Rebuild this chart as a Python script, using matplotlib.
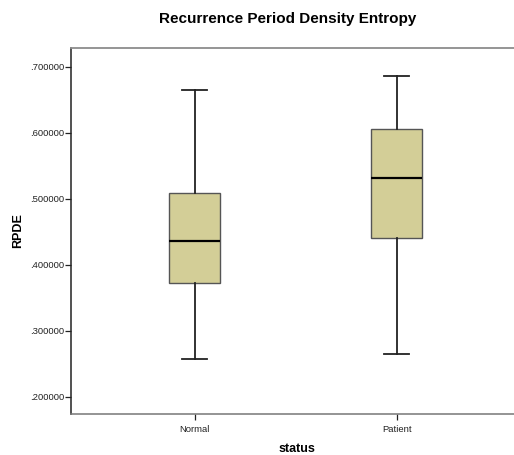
import numpy as np
import matplotlib.pyplot as plt
from matplotlib.ticker import FuncFormatter

plt.rcParams['font.family'] = ['Liberation Sans', 'DejaVu Sans']

groups = ['Normal', 'Patient']
whislo = [0.2571, 0.2642]
q1 = [0.3727, 0.4400]
med = [0.4359, 0.5314]
q3 = [0.5086, 0.6051]
whishi = [0.6647, 0.6864]

stats = []
for i, g in enumerate(groups):
    stats.append({'label': g, 'whislo': whislo[i], 'q1': q1[i], 'med': med[i],
                  'q3': q3[i], 'whishi': whishi[i], 'fliers': []})

fig = plt.figure(figsize=(5.14, 4.55), dpi=100)
ax = fig.add_axes([0.139, 0.0894, 0.861, 0.8058])

ax.bxp(stats, positions=[1, 2], widths=0.251, patch_artist=True, showfliers=False,
       boxprops=dict(facecolor='#d3ce97', edgecolor='#555555', linewidth=1.0),
       medianprops=dict(color='black', linewidth=1.6),
       whiskerprops=dict(color='#222222', linewidth=1.3),
       capprops=dict(color='#222222', linewidth=1.3),
       capwidths=0.124)

ax.set_xlim(0.39, 2.58)
ax.set_ylim(0.1733, 0.7288)
ax.set_yticks([0.2, 0.3, 0.4, 0.5, 0.6, 0.7])
ax.yaxis.set_major_formatter(FuncFormatter(lambda v, p: ('%.6f' % v).lstrip('0')))
ax.tick_params(axis='both', labelsize=6.8, length=4, width=0.9, colors='#222222')
ax.tick_params(axis='y', pad=1)

ax.spines['right'].set_visible(False)
ax.spines['top'].set_color('#8c8c8c')
ax.spines['top'].set_linewidth(1.3)
ax.spines['bottom'].set_color('#777777')
ax.spines['bottom'].set_linewidth(1.1)
ax.spines['left'].set_color('#222222')
ax.spines['left'].set_linewidth(1.1)

ax.set_xlabel('status', fontsize=9, fontweight='bold')
ax.xaxis.set_label_coords(0.509, -0.078)
ax.set_ylabel('RPDE', fontsize=9, fontweight='bold')
ax.yaxis.set_label_coords(-0.108, 0.5)
fig.text(0.56, 0.958, 'Recurrence Period Density Entropy', ha='center', va='center',
         fontsize=11, fontweight='bold')

plt.savefig('out.png', dpi=100)
